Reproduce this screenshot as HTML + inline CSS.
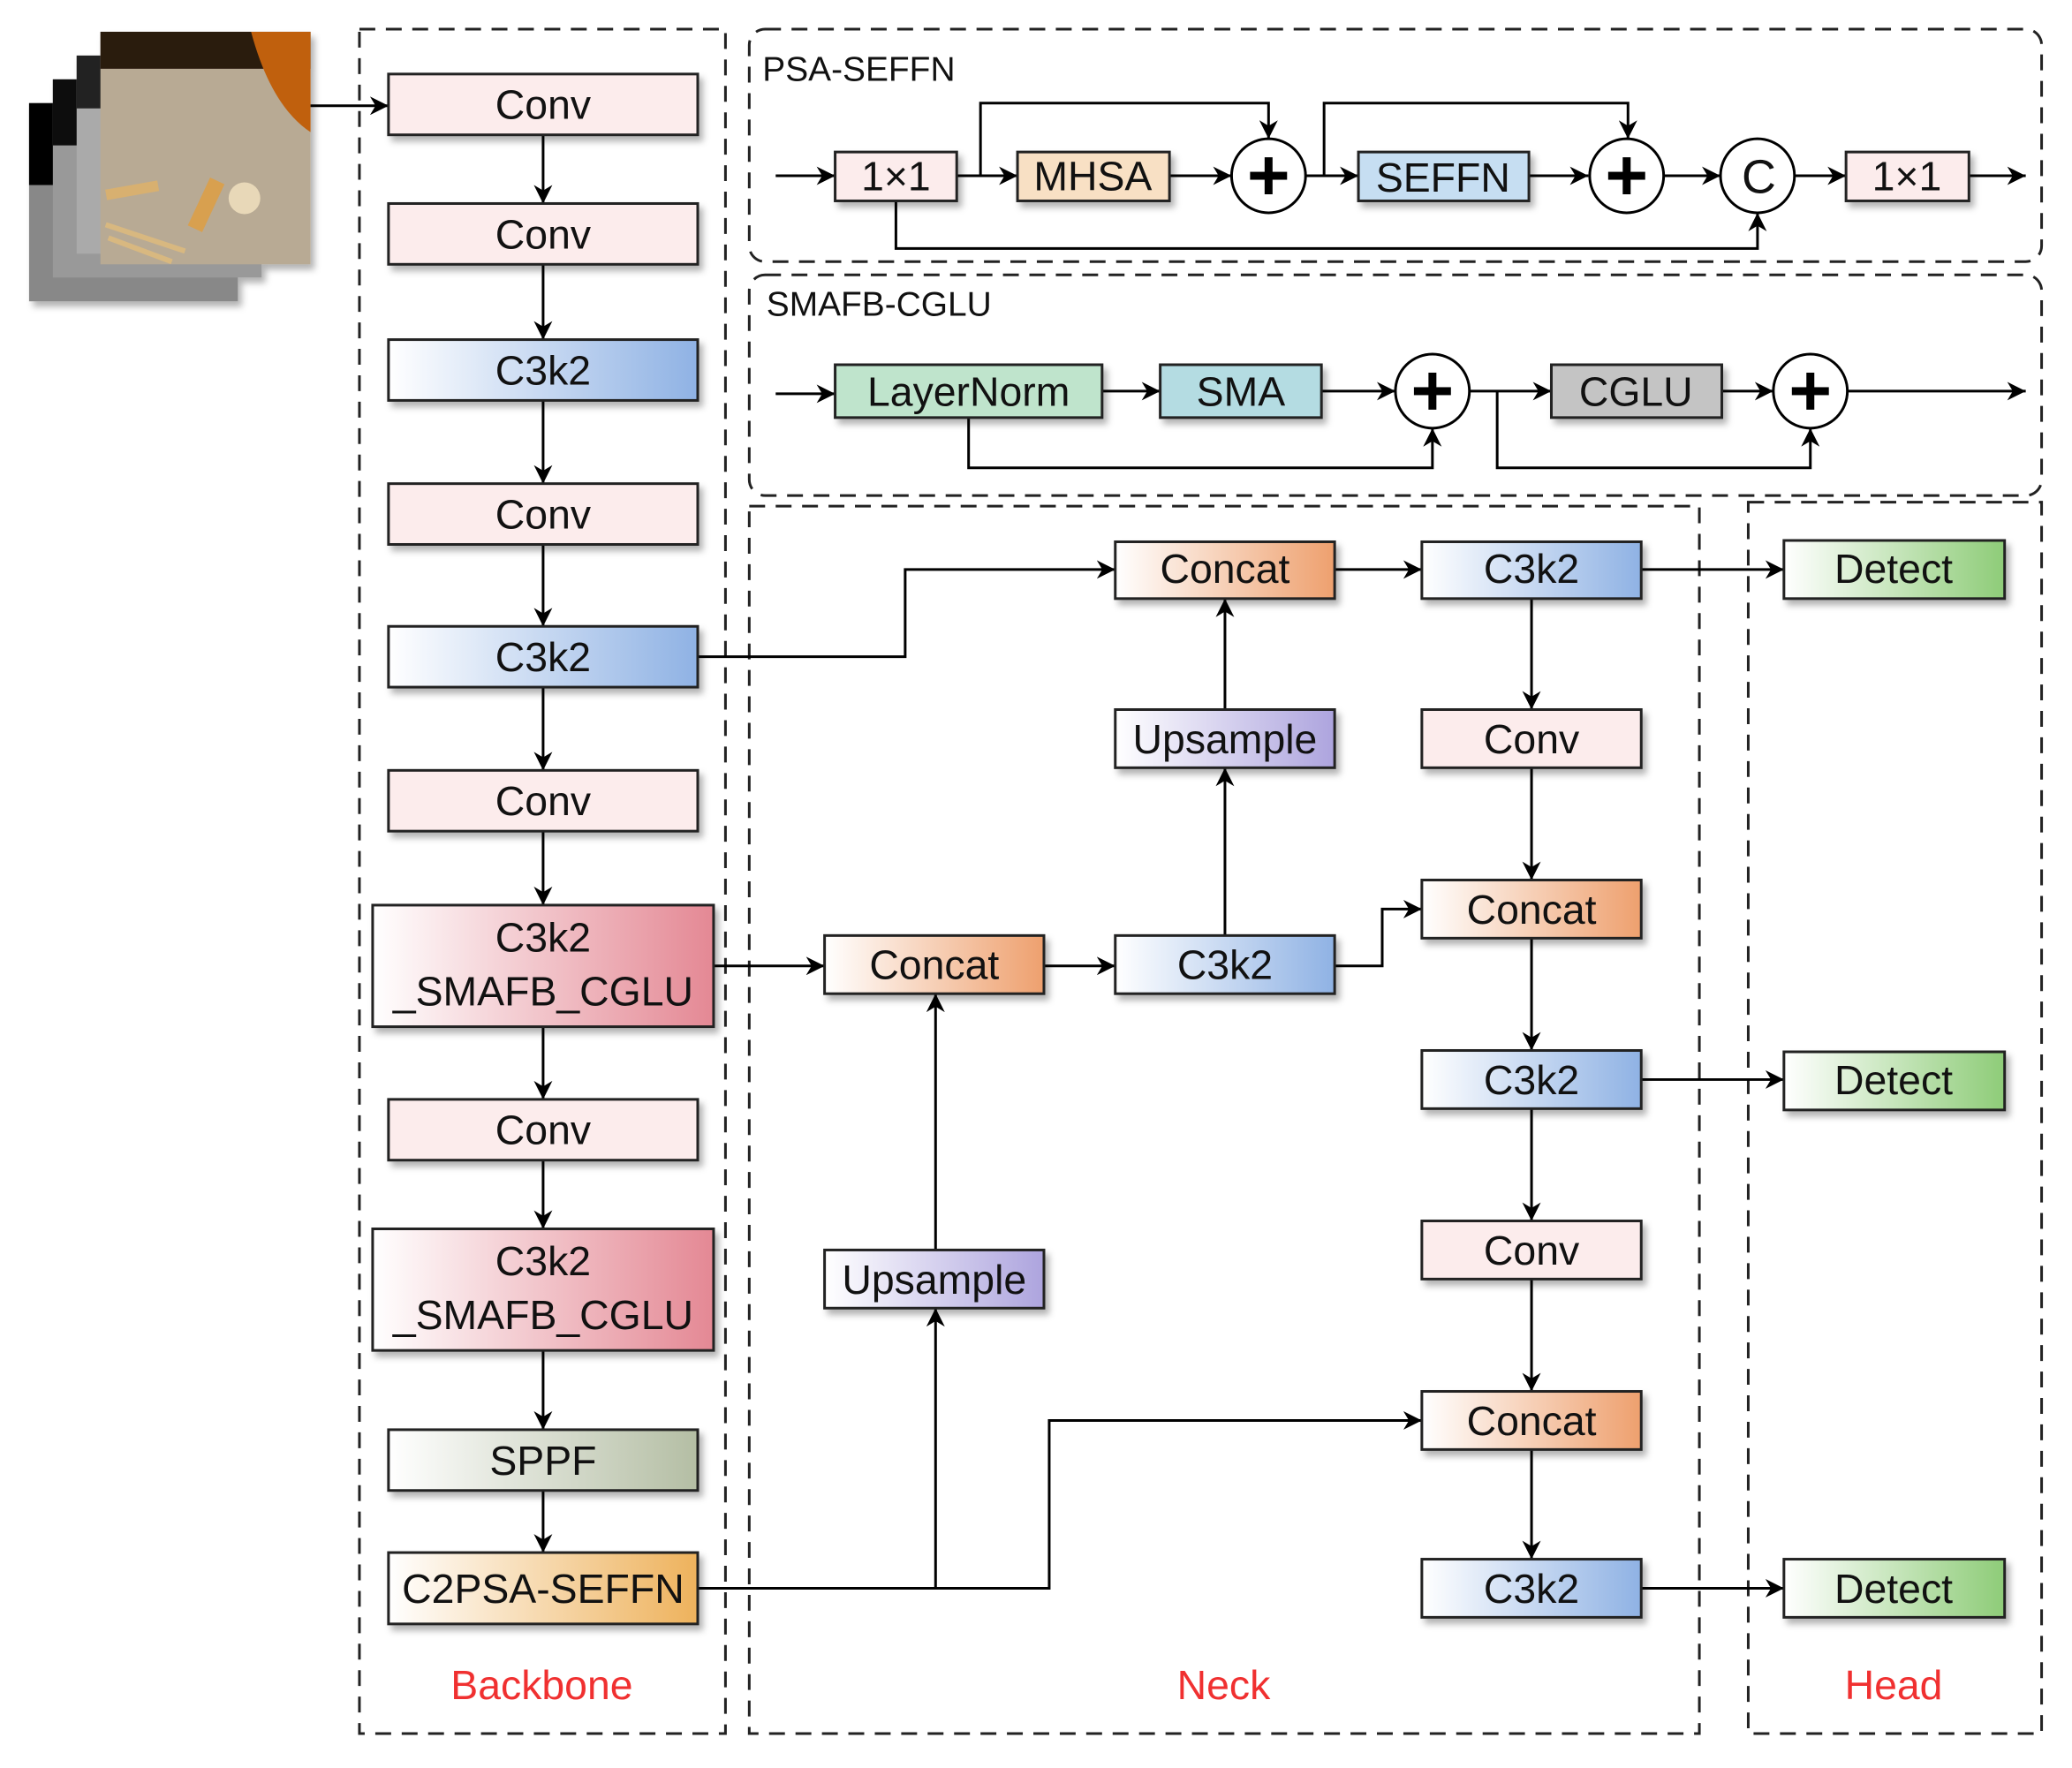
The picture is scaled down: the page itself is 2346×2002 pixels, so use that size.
<!DOCTYPE html>
<html><head><meta charset="utf-8"><style>
html,body{margin:0;padding:0;background:#fff;}
svg{display:block;}
text{font-family:"Liberation Sans",Arial,sans-serif;}
</style></head><body>
<svg width="2346" height="2002" viewBox="0 0 1568 1338" xmlns="http://www.w3.org/2000/svg">
<defs>
<marker id="a" viewBox="0 0 10 10" refX="10" refY="5" markerWidth="14" markerHeight="14" markerUnits="userSpaceOnUse" orient="auto"><path d="M0,0 L10,5 L0,10 L3,5 z" fill="#000"/></marker>
<linearGradient id="gb"><stop offset="0" stop-color="#fff"/><stop offset="1" stop-color="#8fb2e4"/></linearGradient>
<linearGradient id="gr"><stop offset="0" stop-color="#fff"/><stop offset="1" stop-color="#e48894"/></linearGradient>
<linearGradient id="gs"><stop offset="0" stop-color="#fff"/><stop offset="1" stop-color="#b4bea4"/></linearGradient>
<linearGradient id="gy"><stop offset="0" stop-color="#fff"/><stop offset="1" stop-color="#eeb25c"/></linearGradient>
<linearGradient id="go"><stop offset="0" stop-color="#fff"/><stop offset="1" stop-color="#eea06e"/></linearGradient>
<linearGradient id="gp"><stop offset="0" stop-color="#fff"/><stop offset="1" stop-color="#ada4de"/></linearGradient>
<linearGradient id="gg"><stop offset="0" stop-color="#fff"/><stop offset="1" stop-color="#8ecc78"/></linearGradient>
<filter id="sh" x="-10%" y="-20%" width="125%" height="160%"><feDropShadow dx="3" dy="4" stdDeviation="2.5" flood-color="#000" flood-opacity="0.3"/></filter>
</defs>

<!-- image stack -->
<g filter="url(#sh)">
<rect x="22" y="78" width="158" height="150" fill="#888"/><rect x="22" y="78" width="30" height="62" fill="#000"/>
<rect x="40" y="60" width="158" height="150" fill="#999"/><rect x="40" y="60" width="30" height="50" fill="#111"/>
<rect x="58" y="42" width="158" height="150" fill="#aaa"/><rect x="58" y="42" width="30" height="40" fill="#222"/>
<rect x="76" y="24" width="159" height="176" fill="#b8aa94"/>
<rect x="76" y="24" width="159" height="28" fill="#2a1a10"/>
<path d="M190,24 L235,24 L235,100 Q205,80 190,24z" fill="#c0600f"/>
<rect x="80" y="140" width="40" height="8" fill="#d8b070" transform="rotate(-10 100 144)"/>
<rect x="150" y="135" width="12" height="40" fill="#d8a050" transform="rotate(25 156 155)"/>
<circle cx="185" cy="150" r="12" fill="#e8d8b8"/>
<path d="M80,170 L140,190 M82,180 L130,198" stroke="#d8b880" stroke-width="4"/>
</g>

<!-- dashed containers -->
<g fill="none" stroke="#222" stroke-width="2" stroke-dasharray="12,8">
<rect x="272" y="22" width="277" height="1290"/>
<rect x="567" y="22" width="978" height="176" rx="12"/>
<rect x="567" y="208" width="978" height="167" rx="12"/>
<rect x="567" y="383" width="719" height="929"/>
<rect x="1323" y="380" width="222" height="932"/>
</g>

<!-- connectors -->
<g fill="none" stroke="#000" stroke-width="2" marker-end="url(#a)">
<path d="M235,80 H294"/>
<path d="M411,102 V154"/><path d="M411,200 V257"/><path d="M411,303 V366"/><path d="M411,412 V474"/><path d="M411,520 V583"/><path d="M411,629 V685"/><path d="M411,777 V832"/><path d="M411,878 V930"/><path d="M411,1022 V1082"/><path d="M411,1128 V1175"/>
<path d="M528,497 H685 V431 H844"/>
<path d="M540,731 H624"/>
<path d="M790,731 H844"/>
<path d="M927,708 V581"/>
<path d="M927,537 V453"/>
<path d="M1010,731 H1046 V688 H1076"/>
<path d="M1010,431 H1076"/>
<path d="M1242,431 H1350"/>
<path d="M1159,453 V537"/><path d="M1159,581 V666"/><path d="M1159,710 V795"/><path d="M1159,839 V924"/><path d="M1159,968 V1053"/><path d="M1159,1097 V1180"/>
<path d="M1242,817 H1350"/>
<path d="M1242,1202 H1350"/>
<path d="M528,1202 H708 V990"/>
<path d="M708,946 V752"/>
<path d="M708,1202 H794 V1075 H1076"/>
<path d="M587,133 H632"/><path d="M724,133 H770"/><path d="M885,133 H932"/><path d="M988,133 H1028"/><path d="M1157,133 H1202"/><path d="M1258,133 H1302"/><path d="M1358,133 H1397"/><path d="M1490,133 H1533"/>
<path d="M742,133 V78 H960 V105"/>
<path d="M1002,133 V78 H1232 V105"/>
<path d="M678,152 V188 H1330 V161"/>
<path d="M587,298 H632"/><path d="M834,296 H878"/><path d="M1000,296 H1056"/><path d="M1112,296 H1174"/><path d="M1303,296 H1342"/><path d="M1398,296 H1533"/>
<path d="M733,316 V354 H1084 V324"/>
<path d="M1133,296 V354 H1370 V324"/>
</g>

<!-- boxes -->
<g stroke="#222" stroke-width="2" filter="url(#sh)">
<rect x="294" y="56" width="234" height="46" fill="#fcecec"/>
<rect x="294" y="154" width="234" height="46" fill="#fcecec"/>
<rect x="294" y="257" width="234" height="46" fill="url(#gb)"/>
<rect x="294" y="366" width="234" height="46" fill="#fcecec"/>
<rect x="294" y="474" width="234" height="46" fill="url(#gb)"/>
<rect x="294" y="583" width="234" height="46" fill="#fcecec"/>
<rect x="282" y="685" width="258" height="92" fill="url(#gr)"/>
<rect x="294" y="832" width="234" height="46" fill="#fcecec"/>
<rect x="282" y="930" width="258" height="92" fill="url(#gr)"/>
<rect x="294" y="1082" width="234" height="46" fill="url(#gs)"/>
<rect x="294" y="1175" width="234" height="54" fill="url(#gy)"/>
<rect x="624" y="708" width="166" height="44" fill="url(#go)"/>
<rect x="844" y="708" width="166" height="44" fill="url(#gb)"/>
<rect x="844" y="537" width="166" height="44" fill="url(#gp)"/>
<rect x="844" y="410" width="166" height="43" fill="url(#go)"/>
<rect x="624" y="946" width="166" height="44" fill="url(#gp)"/>
<rect x="1076" y="410" width="166" height="43" fill="url(#gb)"/>
<rect x="1076" y="537" width="166" height="44" fill="#fcecec"/>
<rect x="1076" y="666" width="166" height="44" fill="url(#go)"/>
<rect x="1076" y="795" width="166" height="44" fill="url(#gb)"/>
<rect x="1076" y="924" width="166" height="44" fill="#fcecec"/>
<rect x="1076" y="1053" width="166" height="44" fill="url(#go)"/>
<rect x="1076" y="1180" width="166" height="44" fill="url(#gb)"/>
<rect x="1350" y="409" width="167" height="44" fill="url(#gg)"/>
<rect x="1350" y="796" width="167" height="44" fill="url(#gg)"/>
<rect x="1350" y="1180" width="167" height="44" fill="url(#gg)"/>
<rect x="632" y="115" width="92" height="37" fill="#fcecec"/>
<rect x="770" y="115" width="115" height="37" fill="#f8e0c4"/>
<rect x="1028" y="115" width="129" height="37" fill="#c6def2"/>
<rect x="1397" y="115" width="93" height="37" fill="#fcecec"/>
<rect x="632" y="276" width="202" height="40" fill="#bfe4cc"/>
<rect x="878" y="276" width="122" height="40" fill="#b4dce2"/>
<rect x="1174" y="276" width="129" height="40" fill="#c4c4c4"/>
</g>
<g fill="#fff" stroke="#000" stroke-width="2">
<circle cx="960" cy="133" r="28"/><circle cx="1231" cy="133" r="28"/><circle cx="1330" cy="133" r="28"/>
<circle cx="1084" cy="296" r="28"/><circle cx="1370" cy="296" r="28"/>
</g>
<g fill="#000">
<rect x="946" y="130" width="28" height="6"/><rect x="957" y="119" width="6" height="28"/>
<rect x="1217" y="130" width="28" height="6"/><rect x="1228" y="119" width="6" height="28"/>
<rect x="1070" y="293" width="28" height="6"/><rect x="1081" y="282" width="6" height="28"/>
<rect x="1356" y="293" width="28" height="6"/><rect x="1367" y="282" width="6" height="28"/>
</g>

<g font-size="31" text-anchor="middle" fill="#111">
<text x="411" y="90">Conv</text>
<text x="411" y="188">Conv</text>
<text x="411" y="291">C3k2</text>
<text x="411" y="400">Conv</text>
<text x="411" y="508">C3k2</text>
<text x="411" y="617">Conv</text>
<text x="411" y="720">C3k2</text>
<text x="411" y="761">_SMAFB_CGLU</text>
<text x="411" y="866">Conv</text>
<text x="411" y="965">C3k2</text>
<text x="411" y="1006">_SMAFB_CGLU</text>
<text x="411" y="1116">SPPF</text>
<text x="411" y="1213">C2PSA-SEFFN</text>
<text x="707" y="741">Concat</text>
<text x="927" y="741">C3k2</text>
<text x="927" y="570">Upsample</text>
<text x="927" y="441">Concat</text>
<text x="707" y="979">Upsample</text>
<text x="1159" y="441">C3k2</text>
<text x="1159" y="570">Conv</text>
<text x="1159" y="699">Concat</text>
<text x="1159" y="828">C3k2</text>
<text x="1159" y="957">Conv</text>
<text x="1159" y="1086">Concat</text>
<text x="1159" y="1213">C3k2</text>
<text x="1433" y="441">Detect</text>
<text x="1433" y="828">Detect</text>
<text x="1433" y="1213">Detect</text>
<text x="678" y="144">1×1</text>
<text x="827" y="144">MHSA</text>
<text x="1092" y="145">SEFFN</text>
<text x="1443" y="144">1×1</text>
<text x="733" y="307">LayerNorm</text>
<text x="939" y="307">SMA</text>
<text x="1238" y="307">CGLU</text>
<text x="1331" y="146" font-size="36">C</text>
</g>
<g font-size="26" fill="#111">
<text x="577" y="61">PSA-SEFFN</text>
<text x="580" y="239">SMAFB-CGLU</text>
</g>
<g font-size="31" text-anchor="middle" fill="#f03030">
<text x="410" y="1286">Backbone</text>
<text x="926" y="1286">Neck</text>
<text x="1433" y="1286">Head</text>
</g>
</svg>
</body></html>
